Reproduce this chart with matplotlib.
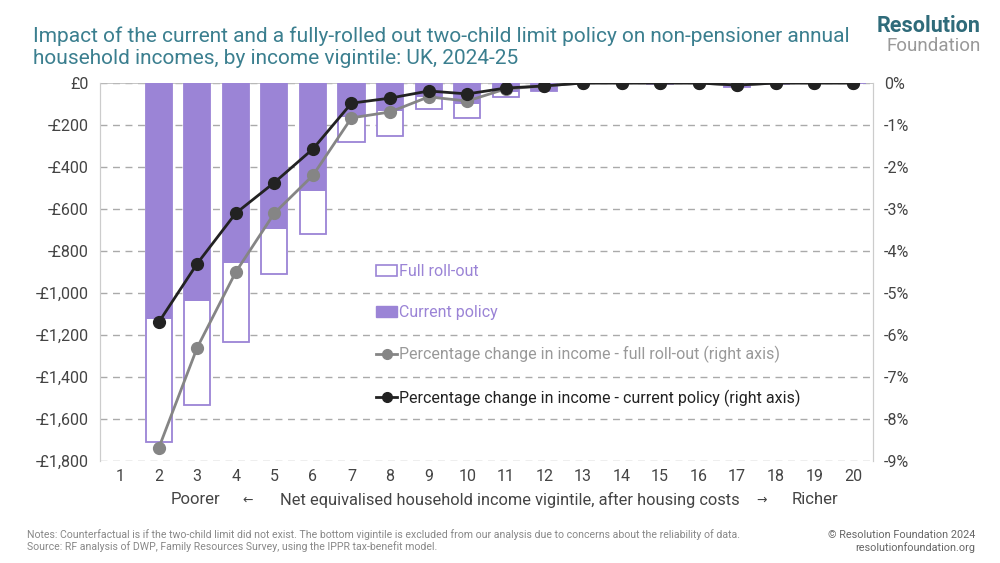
import matplotlib
matplotlib.use("Agg")
import matplotlib.pyplot as plt
from matplotlib.patches import Patch
from matplotlib.lines import Line2D
from matplotlib.ticker import FuncFormatter

# DATA
vigintiles = list(range(2, 21))
full_rollout = [-1708, -1535, -1233, -910, -719, -281, -250, -124, -167, -65, -40,
                0, 0, -5, 0, -20, -5, 0, 0]
current_policy = [-1124, -1040, -857, -695, -512, -160, -133, -67, -100, -45, -40,
                  0, 0, -5, 0, -20, -5, 0, 0]
pct_full = [-8.7, -6.3, -4.5, -3.1, -2.2, -0.83, -0.69, -0.33, -0.43, -0.14, -0.07,
            0, 0, 0, 0, -0.05, 0, 0, 0]
pct_current = [-5.7, -4.3, -3.1, -2.37, -1.57, -0.48, -0.36, -0.19, -0.26, -0.12, -0.07,
               0, 0, 0, 0, -0.05, 0, 0, 0]
x_ticks = list(range(1, 21))
left_ticks = list(range(0, -1801, -200))
right_ticks = list(range(0, -10, -1))

PURPLE = "#9b84d6"
GREY = "#858585"
BLACK = "#222222"
TEAL = "#3b7f8f"
TICK = "#444444"

plt.rcParams["font.family"] = ["Roboto", "DejaVu Sans"]

fig = plt.figure(figsize=(10, 5.63), dpi=100)
ax = fig.add_axes([0.1, 1 - 461 / 563, 0.773, (461 - 83) / 563])
ax2 = ax.twinx()

# bars: full roll-out outline behind, current policy filled on top
ax.bar(vigintiles, full_rollout, width=0.68, facecolor="white", edgecolor=PURPLE,
       linewidth=1.3, zorder=2)
ax.bar(vigintiles, current_policy, width=0.68, color=PURPLE, zorder=3)

ax.set_xlim(0.48, 20.52)
ax.set_ylim(-1800, 0)
ax.set_yticks(left_ticks)
ax.yaxis.set_major_formatter(FuncFormatter(
    lambda v, p: "£0" if v == 0 else "-£{:,.0f}".format(abs(v))))
ax.set_xticks(x_ticks)
ax.grid(axis="y", color="#aaaaaa", linestyle=(0, (5, 4)), linewidth=1, zorder=0)
ax.set_axisbelow(True)
ax.tick_params(axis="both", length=0, labelsize=11.5, colors=TICK, pad=8)
ax.tick_params(axis="x", pad=6)

ax2.plot(vigintiles, pct_full, color=GREY, linewidth=2, marker="o", markersize=8.5,
         zorder=4)
ax2.plot(vigintiles, pct_current, color=BLACK, linewidth=2, marker="o", markersize=8.5,
         zorder=5)
ax2.set_ylim(-9, 0)
ax2.set_yticks(right_ticks)
ax2.yaxis.set_major_formatter(FuncFormatter(lambda v, p: "{:.0f}%".format(v)))
ax2.tick_params(axis="y", length=0, labelsize=11.5, colors=TICK, pad=8)

for a in (ax, ax2):
    for side in ("top", "bottom"):
        a.spines[side].set_visible(False)
    a.spines["left"].set_color("#cccccc")
    a.spines["right"].set_color("#cccccc")
ax.axhline(0, color="#bbbbbb", linewidth=1.2, zorder=1)

# legend
handles = [
    Patch(facecolor="white", edgecolor=PURPLE, linewidth=1.2),
    Patch(facecolor=PURPLE, edgecolor=PURPLE),
    Line2D([], [], color=GREY, linewidth=2, marker="o", markersize=7),
    Line2D([], [], color=BLACK, linewidth=2, marker="o", markersize=7),
]
labels = ["Full roll-out", "Current policy",
          "Percentage change in income - full roll-out (right axis)",
          "Percentage change in income - current policy (right axis)"]
leg = ax2.legend(handles, labels, loc="upper left", bbox_to_anchor=(0.362, 0.556),
                 bbox_transform=fig.transFigure, frameon=False,
                 labelspacing=1.62, handlelength=1.3, handletextpad=0.1,
                 prop={"family": ["Roboto", "DejaVu Sans"], "size": 11.5},
                 labelcolor=[PURPLE, PURPLE, "#999999", BLACK])

# x axis label
ylab = 1 - 500 / 563
fig.text(0.195, ylab, "Poorer", fontsize=12, color=TICK, ha="center", va="center")
fig.text(0.248, ylab, "←", fontsize=9, color=TICK, ha="center", va="center",
         family=["DejaVu Sans"])
fig.text(0.51, ylab, "Net equivalised household income vigintile, after housing costs",
         fontsize=11.8, color=TICK, ha="center", va="center")
fig.text(0.762, ylab, "→", fontsize=9, color=TICK, ha="center", va="center",
         family=["DejaVu Sans"])
fig.text(0.815, ylab, "Richer", fontsize=12, color=TICK, ha="center", va="center")

# title
fig.text(0.033, 1 - 36 / 563, "Impact of the current and a fully-rolled out two-child limit "
         "policy on non-pensioner annual", fontsize=15, color=TEAL, va="center")
fig.text(0.033, 1 - 59 / 563, "household incomes, by income vigintile: UK, 2024-25",
         fontsize=15, color=TEAL, va="center")

# logo
fig.text(0.981, 1 - 26 / 563, "Resolution", fontsize=15.5, color="#2f6b7a",
         fontweight="bold", ha="right", va="center")
fig.text(0.981, 1 - 46 / 563, "Foundation", fontsize=13.5, color="#999999",
         ha="right", va="center")

# notes
fig.text(0.027, 1 - 535 / 563, "Notes: Counterfactual is if the two-child limit did not exist. "
         "The bottom vigintile is excluded from our analysis due to concerns about the "
         "reliability of data.", fontsize=7.6, color="#888888", va="center")
fig.text(0.027, 1 - 547 / 563, "Source: RF analysis of DWP, Family Resources Survey, "
         "using the IPPR tax-benefit model.", fontsize=7.6, color="#888888", va="center")
fig.text(0.975, 1 - 535 / 563, "© Resolution Foundation 2024", fontsize=7.8,
         color="#666666", ha="right", va="center")
fig.text(0.975, 1 - 548 / 563, "resolutionfoundation.org", fontsize=7.8,
         color="#666666", ha="right", va="center")

fig.savefig("out.png", dpi=100)
